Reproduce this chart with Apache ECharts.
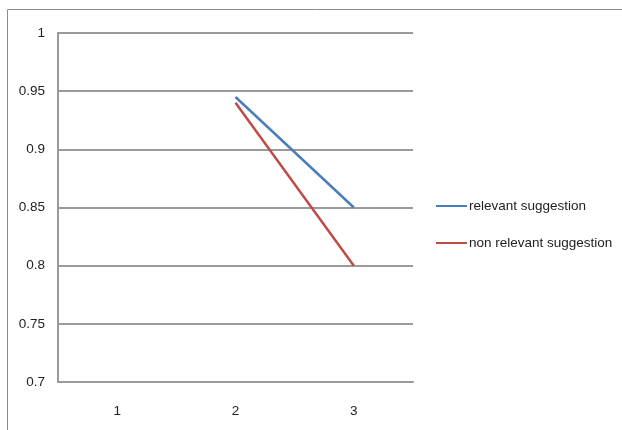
<!DOCTYPE html>
<html><head><meta charset="utf-8">
<script src="https://cdn.jsdelivr.net/npm/echarts@6/dist/echarts.min.js"></script>
<style>html,body{margin:0;padding:0;background:#fff}#c{width:622px;height:430px}</style>
</head><body><div id="c"></div>
<script>
const categories = ['1', '2', '3'];
const relevant = [null, 0.945, 0.85];
const nonRelevant = [null, 0.94, 0.80];
const seriesNames = ['relevant suggestion', 'non relevant suggestion'];
const FONT = '"Liberation Sans", sans-serif';
const chart = echarts.init(document.getElementById('c'), null, {renderer: 'canvas'});
chart.setOption({
  animation: false,
  backgroundColor: '#fff',
  graphic: [{
    type: 'polyline', silent: true,
    shape: {points: [[7.5, 440], [7.5, 9.5], [640, 9.5]]},
    style: {stroke: '#8c8c8c', lineWidth: 1, fill: null}
  }],
  grid: {left: 58, right: 209, top: 33, bottom: 48, containLabel: false},
  legend: {
    orient: 'vertical', left: 436, top: 199, padding: 0,
    itemWidth: 31, itemHeight: 14, itemGap: 23,
    icon: 'path://M0,6 L31,6 L31,8 L0,8 Z',
    textStyle: {fontFamily: FONT, fontSize: 13.5, color: '#222', padding: [0, 0, 0, -3]},
    data: seriesNames
  },
  xAxis: {
    type: 'category', data: categories, boundaryGap: true,
    axisLine: {lineStyle: {color: '#9a9a9a', width: 2}},
    axisTick: {show: false},
    axisLabel: {fontFamily: FONT, fontSize: 13.5, color: '#222', margin: 22}
  },
  yAxis: {
    type: 'value', min: 0.7, max: 1, interval: 0.05,
    axisLine: {show: true, lineStyle: {color: '#9a9a9a', width: 2}},
    axisTick: {show: false},
    splitLine: {lineStyle: {color: '#9a9a9a', width: 2}},
    axisLabel: {fontFamily: FONT, fontSize: 13.5, color: '#222', margin: 13,
      formatter: v => String(Math.round(v * 100) / 100)}
  },
  series: [
    {name: seriesNames[0], type: 'line', data: relevant, symbol: 'none',
     lineStyle: {color: '#4a7ebb', width: 2.5}, itemStyle: {color: '#4a7ebb'}},
    {name: seriesNames[1], type: 'line', data: nonRelevant, symbol: 'none',
     lineStyle: {color: '#be4b48', width: 2.5}, itemStyle: {color: '#be4b48'}}
  ]
});
</script></body></html>
